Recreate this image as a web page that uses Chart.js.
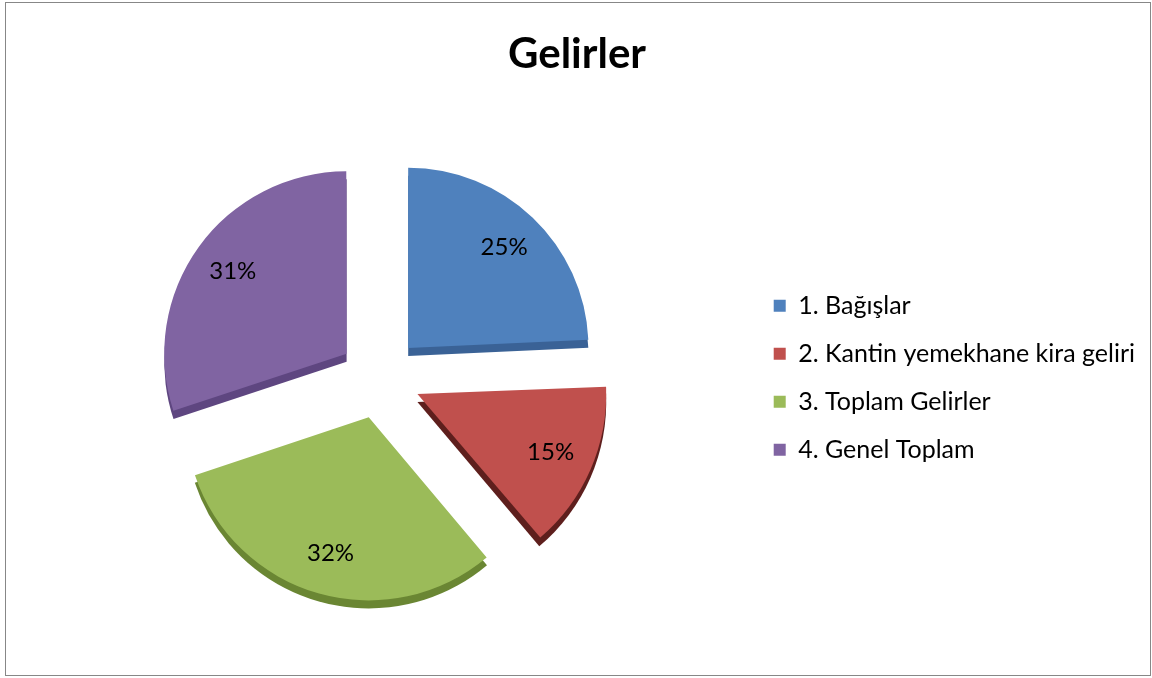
<!DOCTYPE html>
<html>
<head>
<meta charset="utf-8">
<script src="https://cdn.jsdelivr.net/npm/chart.js@4"></script>
<style>
  body { margin: 0; background: #fff; }
  #box { position: absolute; left: 5px; top: 2px; width: 1144px; height: 672px; border: 1px solid #878787; }
  canvas { display: block; }
</style>
</head>
<body>
<div id="box"><canvas id="gelirler" width="1144" height="672"></canvas></div>
<script>
var kategoriler = ['1. Bağışlar', '2. Kantin yemekhane kira geliri', '3. Toplam Gelirler', '4. Genel Toplam']
var yuzdeler = [25, 15, 32, 31]
var renkler = ['#4F81BD', '#C0504D', '#9BBB59', '#8064A2']
var koyuRenkler = ['#3a6296', '#5e1f1d', '#6a8633', '#5e4680']

var FONT = 'Lato, "Open Sans", sans-serif'

// same shift chart.js uses when it draws an arc with offset
function dilim(arc) {
  var p = arc.getProps(['x', 'y', 'startAngle', 'endAngle', 'outerRadius'], true)
  var off = (arc.options.offset || 0) / 4
  var mid = (p.startAngle + p.endAngle) / 2
  var fix = 1 - Math.sin(Math.min(Math.PI, p.endAngle - p.startAngle))
  return {
    x: p.x + Math.cos(mid) * off,
    y: p.y + Math.sin(mid) * off,
    r: p.outerRadius + off * fix,
    start: p.startAngle,
    end: p.endAngle,
    mid: mid
  }
}

// slices get a darker copy drawn a bit lower, like the old excel 3d pie
var derinlik = {
  id: 'derinlik',
  beforeDatasetsDraw: function (chart) {
    var ctx = chart.ctx
    chart.getDatasetMeta(0).data.forEach(function (arc, i) {
      var d = dilim(arc)
      ctx.save()
      ctx.fillStyle = koyuRenkler[i]
      ctx.beginPath()
      ctx.moveTo(d.x, d.y + 8)
      ctx.arc(d.x, d.y + 8, d.r, d.start, d.end)
      ctx.closePath()
      ctx.fill()
      ctx.restore()
    })
  },
  afterDatasetsDraw: function (chart) {
    var ctx = chart.ctx
    ctx.save()
    ctx.font = '24px ' + FONT
    ctx.fillStyle = '#000'
    ctx.textAlign = 'center'
    ctx.textBaseline = 'middle'
    chart.getDatasetMeta(0).data.forEach(function (arc, i) {
      var d = dilim(arc)
      var r = d.r * 0.77
      ctx.fillText(yuzdeler[i] + '%', d.x + Math.cos(d.mid) * r, d.y + Math.sin(d.mid) * r)
    })
    ctx.restore()
  }
}

new Chart(document.getElementById('gelirler'), {
  type: 'pie',
  data: {
    labels: kategoriler,
    datasets: [{
      data: yuzdeler,
      backgroundColor: renkler,
      borderWidth: 0,
      offset: 164
    }]
  },
  options: {
    responsive: false,
    animation: false,
    layout: { padding: { left: 3, right: 5, top: 0, bottom: 35 } },
    plugins: {
      title: {
        display: true,
        text: 'Gelirler',
        color: '#000',
        font: { family: FONT, size: 42, weight: 'bold' },
        padding: { top: 26, bottom: 36 }
      },
      legend: {
        position: 'right',
        fullSize: false,
        labels: {
          color: '#000',
          boxWidth: 12,
          boxHeight: 12,
          padding: 23,
          font: { family: FONT, size: 25 }
        }
      },
      tooltip: { enabled: false }
    }
  },
  plugins: [derinlik]
})
</script>
</body>
</html>
